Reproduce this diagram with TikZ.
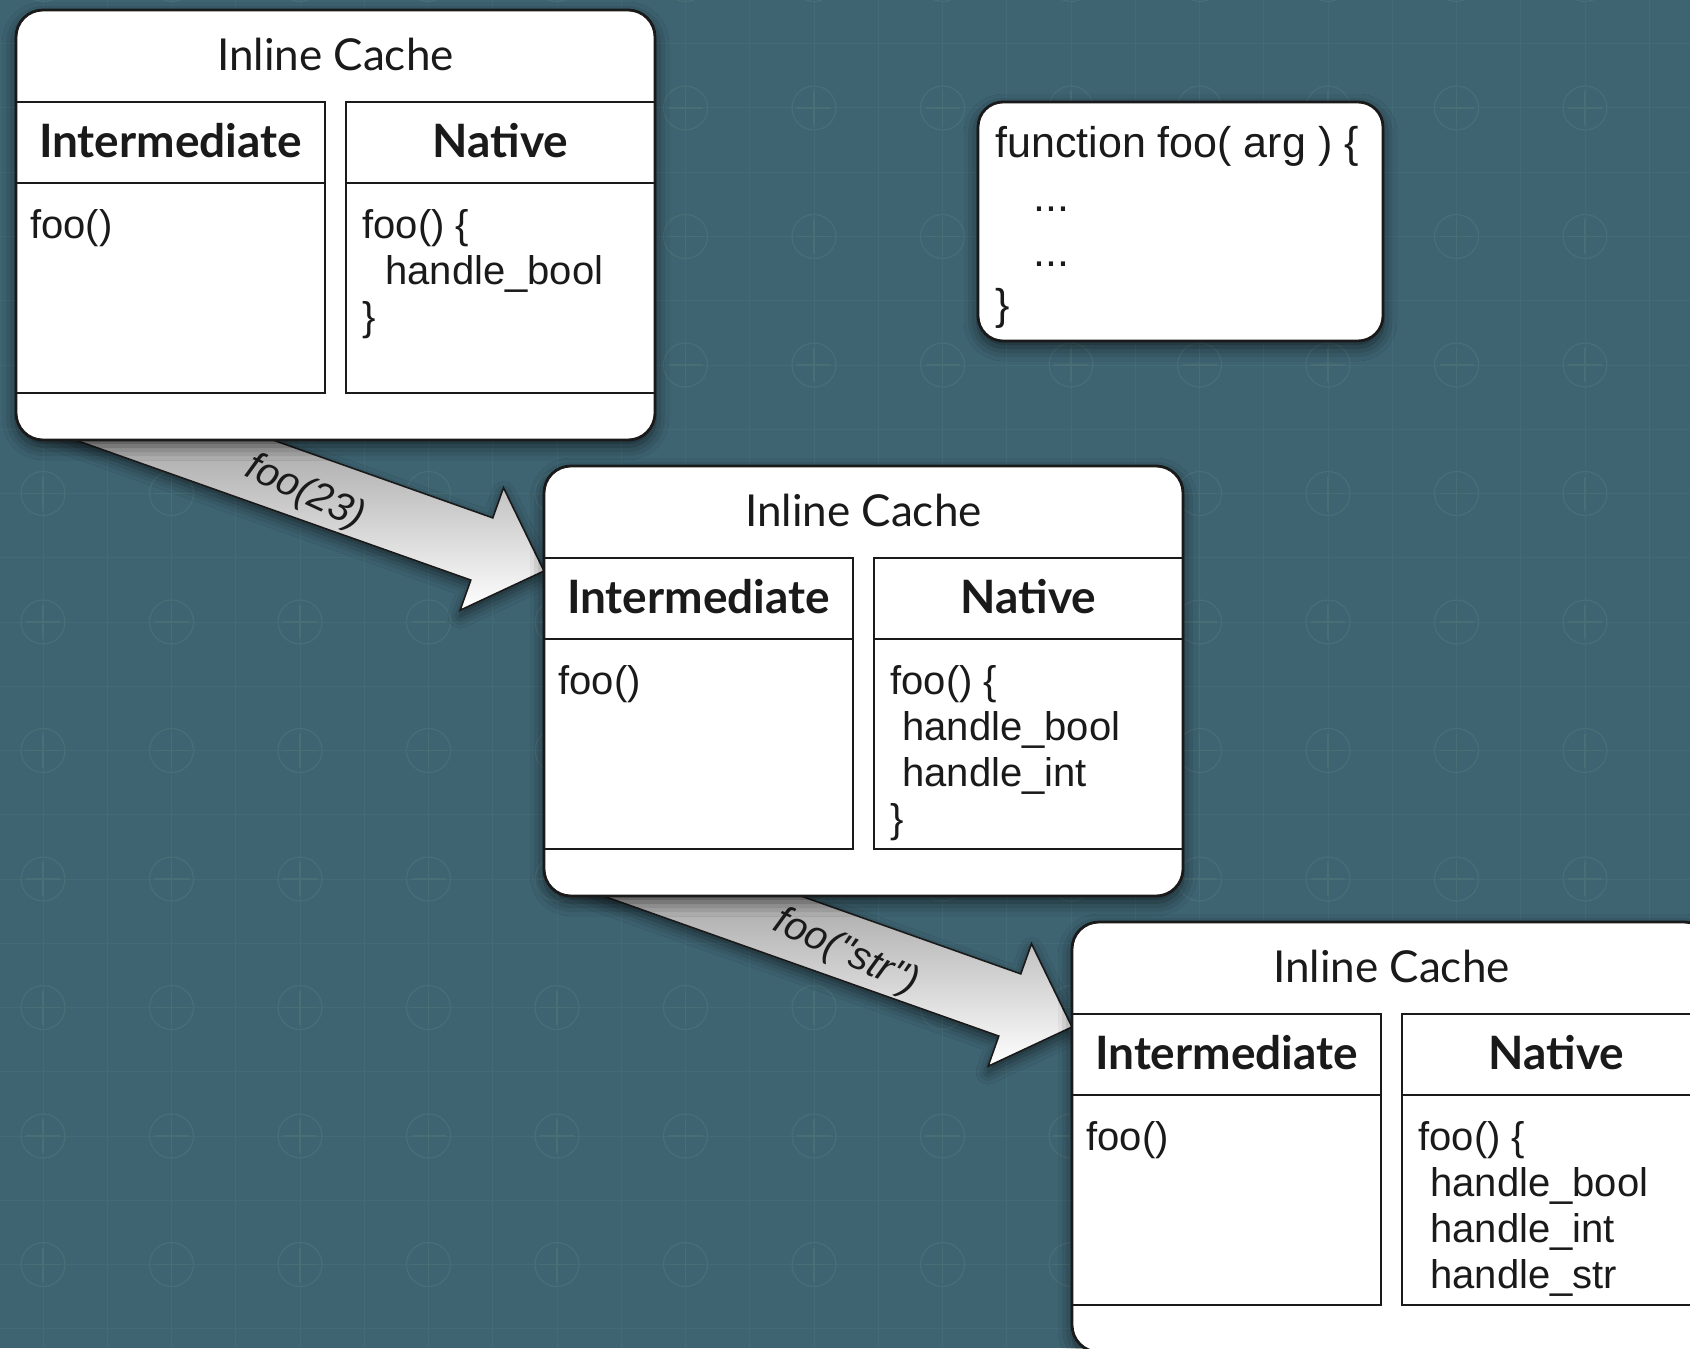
\documentclass[tikz,border=0pt]{standalone}
\usepackage{fontspec}
\setmainfont{Liberation Sans}
\newfontfamily\gillish{Lato}
\newfontfamily\labelfont{Liberation Sans}[Ligatures=TeXOff]
\usetikzlibrary{calc,shadows.blur}

\definecolor{slate}{RGB}{62,99,113}
\definecolor{gridline}{RGB}{67,106,119}
\definecolor{gridmark}{RGB}{72,111,118}
\definecolor{ink}{RGB}{26,26,26}

\tikzset{
  frame/.style={draw=ink, line width=1.4pt, fill=white, rounded corners=13.5pt,
    outer sep=0pt, inner sep=0pt,
    blur shadow={shadow xshift=0pt, shadow yshift=-3pt, shadow blur radius=7pt, shadow opacity=60}},
  cell/.style={draw=ink, line width=1.4pt},
  title/.style={font=\gillish\fontsize{22}{26}\selectfont, text=ink, inner sep=0pt},
  colhead/.style={font=\gillish\bfseries\fontsize{23}{27}\selectfont, text=ink, inner sep=0pt},
  code/.style={font=\fontsize{20}{24}\selectfont, text=ink, anchor=base west, inner sep=0pt},
  fncode/.style={font=\fontsize{21.5}{26}\selectfont, text=ink, anchor=base west, inner sep=0pt},
  callarrow/.style={draw=ink, line width=0.8pt, top color=black!48, bottom color=white,
    blur shadow={shadow xshift=0pt, shadow yshift=-3pt, shadow blur radius=6pt, shadow opacity=55}},
  calllabel/.style={font=\labelfont\itshape\fontsize{20}{24}\selectfont, text=ink, inner sep=0pt, rotate=-25},
}

% One inline-cache panel: frame, title, two columns with headers
\newcommand{\cachebox}[3]{%
  \begin{scope}[shift={(#2,#3)}]
    \node[frame, anchor=north west, minimum width=319.5pt, minimum height=215pt] (#1) at (16,10) {};
    \node[title] (#1-title) at (335.5,54) {Inline Cache};
    \draw[cell] (16,102) rectangle (325,393);
    \draw[cell] (346,102) rectangle (655,393);
    \draw[cell] (16,183) -- (325,183) (346,183) -- (655,183);
    \node[colhead] (#1-ih) at (170.5,141) {Intermediate};
    \node[colhead] (#1-nh) at (500.5,141) {Native};
    \node[code] (#1-i1) at (30,238) {foo()};
  \end{scope}}

% Block arrow whose tip sits on a named coordinate
\newcommand{\callarrow}[1]{%
  \begin{scope}[shift={(#1)}, rotate=-19.5]
    \path[callarrow] (0,0) -- (-66,65) -- (-66,33) -- (-520,33) -- (-520,-33)
      -- (-66,-33) -- (-66,-65) -- cycle;
  \end{scope}}

\begin{document}
\begin{tikzpicture}[x=0.5pt,y=-0.5pt]
\useasboundingbox (0,0) rectangle (1690,1348);
\clip (0,0) rectangle (1690,1348);
\fill[slate] (0,0) rectangle (1690,1348);

% faint drafting grid
\foreach \k in {0,...,26}
  \draw[gridline, line width=0.5pt] ({43+64.25*\k},0) -- ({43+64.25*\k},1348);
\foreach \k in {0,...,20}
  \draw[gridline, line width=0.5pt] (0,{43.75+64.25*\k}) -- (1690,{43.75+64.25*\k});
\foreach \i in {0,...,13}
  \foreach \j in {0,...,11} {
    \draw[gridmark, line width=0.6pt] ({43+128.5*\i},{-20.5+128.5*\j}) circle[radius=11pt];
    \draw[gridmark, line width=0.6pt] ({43+128.5*\i-17},{-20.5+128.5*\j}) -- ({43+128.5*\i+17},{-20.5+128.5*\j})
      ({43+128.5*\i},{-20.5+128.5*\j-17}) -- ({43+128.5*\i},{-20.5+128.5*\j+17});
  }

% anchor points of the arrows on the target panels
\coordinate (tip1) at (544,571);
\coordinate (tip2) at (1072,1027);
\callarrow{tip1}
\callarrow{tip2}
\node[calllabel] (lab1) at (305,493) {foo(23)};
\node[calllabel] (lab2) at (846,953) {foo("str")};

% the three cache panels
\cachebox{c1}{0}{0}
\cachebox{c2}{528}{456}
\cachebox{c3}{1056}{912}

\node[code] (c1-n1) at (362,238) {foo() \{};
\node[code] (c1-n2) at (385,284) {handle\_bool};
\node[code] (c1-n3) at (362,330) {\}};

\node[code] (c2-n1) at (890,694) {foo() \{};
\node[code] (c2-n2) at (902,740) {handle\_bool};
\node[code] (c2-n3) at (902,786) {handle\_int};
\node[code] (c2-n4) at (890,832) {\}};

\node[code] (c3-n1) at (1418,1150) {foo() \{};
\node[code] (c3-n2) at (1430,1196) {handle\_bool};
\node[code] (c3-n3) at (1430,1242) {handle\_int};
\node[code] (c3-n4) at (1430,1288) {handle\_str};

% source of the function
\node[frame, rounded corners=12.5pt, anchor=north west, minimum width=202.5pt, minimum height=119.5pt] (fn) at (978,102) {};
\node[fncode] (fn1) at (995,158) {function foo( arg ) \{};
\node[fncode] (fn2) at (1033,212) {...};
\node[fncode] (fn3) at (1033,266) {...};
\node[fncode] (fn4) at (995,319) {\}};
\end{tikzpicture}
\end{document}
